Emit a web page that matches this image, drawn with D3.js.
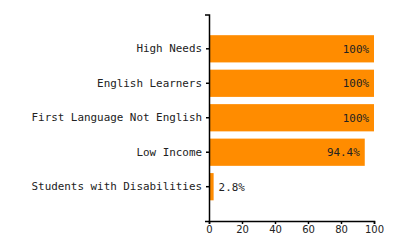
<!DOCTYPE html>
<html>
<head>
<meta charset="utf-8">
<script src="https://cdn.jsdelivr.net/npm/d3@7"></script>
<style>
  body { margin: 0; background: #fff; }
  .ylab text { font-family: "DejaVu Sans Mono", monospace; font-size: 10.9px; fill: #222; }
  .xax text { font-family: "DejaVu Sans", sans-serif; font-size: 10px; fill: #222; }
  .val { font-family: "DejaVu Sans Mono", monospace; font-size: 10.9px; fill: #222; }
</style>
</head>
<body>
<div id="chart"></div>
<script>
var categories = ["High Needs", "English Learners", "First Language Not English", "Low Income", "Students with Disabilities"];
var values = [100, 100, 100, 94.4, 2.8];
var valueLabels = ["100%", "100%", "100%", "94.4%", "2.8%"];
var xTicks = [0, 20, 40, 60, 80, 100];

var width = 400, height = 250;
var margin = {top: 14.5, right: 26, bottom: 29, left: 209};
var w = width - margin.left - margin.right,
    h = height - margin.top - margin.bottom;

var svg = d3.select("#chart").append("svg")
  .attr("width", width)
  .attr("height", height)
  .append("g")
  .attr("transform", "translate(" + margin.left + "," + margin.top + ")");

var x = d3.scaleLinear().domain([0, 100]).range([0, w]);
var y = d3.scaleBand().domain(categories).range([0, h])
  .paddingInner(0.21).paddingOuter(0.6);

var data = categories.map(function(c, i) {
  return {name: c, value: values[i], label: valueLabels[i]};
});

svg.selectAll(".bar")
  .data(data)
  .enter().append("rect")
  .attr("class", "bar")
  .attr("x", 0)
  .attr("y", function(d) { return y(d.name); })
  .attr("width", function(d) { return x(d.value); })
  .attr("height", y.bandwidth())
  .attr("fill", "#ff8c00");

// value labels: inside when bar is wide, outside otherwise
svg.selectAll(".val")
  .data(data)
  .enter().append("text")
  .attr("class", "val")
  .attr("x", function(d) { return d.value > 20 ? x(d.value) - 5 : x(d.value) + 5; })
  .attr("y", function(d) { return y(d.name) + y.bandwidth() / 2; })
  .attr("dy", "0.35em")
  .attr("text-anchor", function(d) { return d.value > 20 ? "end" : "start"; })
  .text(function(d) { return d.label; });

svg.append("g").attr("class", "ylab")
  .call(d3.axisLeft(y).tickSize(3).tickSizeOuter(4).tickPadding(4));

svg.append("g").attr("class", "xax")
  .attr("transform", "translate(0," + h + ")")
  .call(d3.axisBottom(x).tickValues(xTicks).tickSize(3).tickSizeOuter(3).tickPadding(2));

svg.selectAll(".domain, .tick line").attr("stroke", "#000").attr("stroke-width", 1.5);
</script>
</body>
</html>
